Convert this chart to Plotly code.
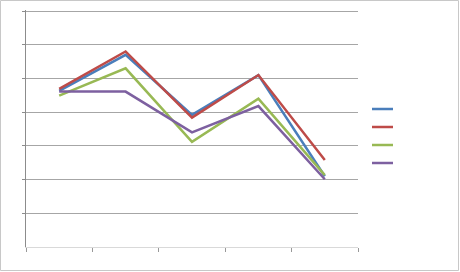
import plotly.graph_objects as go

categories = ["1", "2", "3", "4", "5"]
series_names = ["Series 1", "Series 2", "Series 3", "Series 4"]
blue = [4.63, 5.70, 3.92, 5.10, 2.10]
red = [4.69, 5.80, 3.84, 5.10, 2.58]
green = [4.49, 5.30, 3.12, 4.40, 2.13]
purple = [4.61, 4.61, 3.40, 4.18, 2.01]
colors = ["#4a7ebb", "#be4b48", "#98b954", "#7d60a0"]

W, H = 460, 272
ml, mr, mt, mb = 26, 102, 10, 25

fig = go.Figure()
for vals, c, nm in zip([blue, red, green, purple], colors, series_names):
    fig.add_trace(go.Scatter(x=categories, y=vals, mode="lines", name=nm,
                             line=dict(color=c, width=2.5), showlegend=False))

pw = W - ml - mr
ph = H - mt - mb
fig.add_shape(type="rect", xref="paper", yref="paper",
              x0=-(ml - 0.5) / pw, x1=1 + (mr - 1.5) / pw,
              y0=-(mb - 1.5) / ph, y1=1 + (mt - 0.5) / ph,
              line=dict(color="#c8c8c8", width=1), fillcolor="rgba(0,0,0,0)", layer="below")

# legend keys (no text in the reference)
for i, c in enumerate(colors):
    yp = 272 - mb - (109 + 18 * i)
    fig.add_shape(type="line", xref="paper", yref="paper",
                  x0=(372 - ml) / pw, x1=(393 - ml) / pw,
                  y0=yp / ph, y1=yp / ph,
                  line=dict(color=c, width=2.5))

fig.update_layout(
    width=W, height=H,
    margin=dict(l=ml, r=mr, t=mt, b=mb, pad=0),
    paper_bgcolor="white", plot_bgcolor="white",
    showlegend=False,
    xaxis=dict(type="category", range=[-0.5, 4.5], showticklabels=False,
               showgrid=False, showline=True, linecolor="#d9d9d9", linewidth=1,
               ticks="outside", ticklen=4, tickcolor="#999999", tickson="boundaries"),
    yaxis=dict(range=[0, 7.03], tickvals=[1, 2, 3, 4, 5, 6, 7], showticklabels=False, showgrid=True,
               gridcolor="#a6a6a6", gridwidth=1, zeroline=False,
               showline=True, linecolor="#8c8c8c", linewidth=1,
               ticks="outside", ticklen=3, tickcolor="#8c8c8c"),
)

fig.write_html("out.html")
